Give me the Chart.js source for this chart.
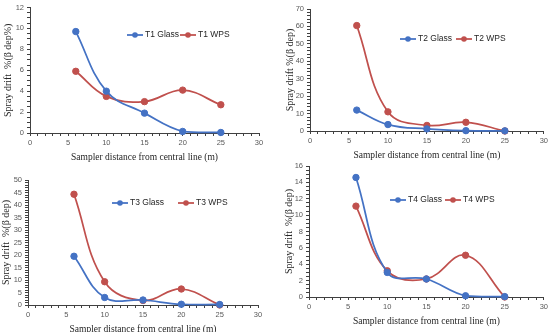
<!DOCTYPE html>
<html lang="en">

<head>
  <meta charset="UTF-8" />
  <title>Spray drift</title>
  <style>
    body {
      margin: 0;
      background: #fff;
    }
    #wrap {
      position: relative;
      width: 550px;
      height: 332px;
    }
    #wrap canvas {
      position: absolute;
      left: 0;
      top: 0;
    }
  </style>
</head>

<body>
  <div id="wrap">
    <canvas id="c1" width="550" height="332"></canvas>
    <canvas id="c2" width="550" height="332"></canvas>
    <canvas id="c3" width="550" height="332"></canvas>
    <canvas id="c4" width="550" height="332"></canvas>
  </div>

  <script src="https://cdn.jsdelivr.net/npm/chart.js"></script>
  <script>
    // sampler distance (m)
    const distances = [6, 10, 15, 20, 25];

    const t1Glass = [9.7, 4.0, 1.9, 0.15, 0.05];
    const t1Wps = [5.9, 3.5, 3.0, 4.1, 2.7];
    const t2Glass = [12.0, 3.7, 1.2, 0.2, 0.1];
    const t2Wps = [60.5, 11.0, 3.2, 5.0, 0];
    const t3Glass = [19.5, 3.0, 2.0, 0.3, 0.2];
    const t3Wps = [44.3, 9.3, 1.8, 6.4, 0];
    const t4Glass = [14.6, 3.0, 2.2, 0.15, 0.05];
    const t4Wps = [11.1, 3.2, 2.2, 5.1, 0];

    // axis ranges
    const xMax = 30;
    const xMajor = 5;
    const yMaxes = [12, 70, 50, 16];
    const yMajors = [2, 10, 5, 2];
    const yMinors = [0.5, 2, 1, 0.5];

    const BLUE = "#4472C4";
    const RED = "#C0504D";
    const AXIS = "#404040";
    const TICK_TXT = "#595959";

    Chart.defaults.font.family = "'Liberation Sans', Arial, sans-serif";

    const legendPlugin = {
      id: "panelLegend",
      afterDraw(chart, args, opts) {
        const ctx = chart.ctx;
        ctx.save();
        chart.data.datasets.forEach((ds, i) => {
          const x = opts.xs[i];
          const y = opts.y;
          ctx.strokeStyle = ds.borderColor;
          ctx.lineWidth = 1.75;
          ctx.beginPath();
          ctx.moveTo(x, y);
          ctx.lineTo(x + 16, y);
          ctx.stroke();
          ctx.fillStyle = ds.borderColor;
          ctx.beginPath();
          ctx.arc(x + 8, y, 2.8, 0, Math.PI * 2);
          ctx.fill();
          ctx.fillStyle = "#262626";
          ctx.font = "8.5px 'Liberation Sans', Arial, sans-serif";
          ctx.textBaseline = "middle";
          ctx.fillText(ds.label, x + 18, y);
        });
        ctx.restore();
      },
    };

    const panels = [
      { id: "c1", name: "T1", glass: t1Glass, wps: t1Wps, yTitle: "Spray drift  %(β dep%)",
        area: { l: 30, r: 259, t: 6, b: 133 }, yPad: 2, legend: { y: 35, xs: [127, 180] } },
      { id: "c2", name: "T2", glass: t2Glass, wps: t2Wps, yTitle: "Spray drift %(β dep)",
        area: { l: 310, r: 544, t: 9, b: 131 }, yPad: 4, legend: { y: 39, xs: [400, 456] } },
      { id: "c3", name: "T3", glass: t3Glass, wps: t3Wps, yTitle: "Spray drift  %(β dep)",
        area: { l: 28, r: 258, t: 180, b: 305 }, yPad: 2, legend: { y: 203, xs: [112, 178] } },
      { id: "c4", name: "T4", glass: t4Glass, wps: t4Wps, yTitle: "Spray drift  %(β dep)",
        area: { l: 309, r: 544, t: 166, b: 297 }, yPad: 4, legend: { y: 200, xs: [390, 445] } },
    ];

    function series(label, values, color) {
      return {
        label: label,
        data: distances.map((d, i) => ({ x: d, y: values[i] })),
        borderColor: color,
        backgroundColor: color,
        borderWidth: 1.75,
        pointRadius: 3.2,
        pointBorderWidth: 1,
        tension: 0.4,
        clip: false,
      };
    }

    panels.forEach((p, k) => {
      const a = p.area;
      const major = yMajors[k];
      new Chart(document.getElementById(p.id), {
        type: "line",
        data: {
          datasets: [
            series(p.name + " Glass", p.glass, BLUE),
            series(p.name + " WPS", p.wps, RED),
          ],
        },
        plugins: [legendPlugin],
        options: {
          responsive: false,
          animation: false,
          events: [],
          layout: {
            padding: { left: a.l - 30, right: 550 - a.r, top: a.t, bottom: 332 - a.b - 30 },
          },
          plugins: {
            legend: { display: false },
            tooltip: { enabled: false },
            panelLegend: p.legend,
          },
          scales: {
            x: {
              type: "linear",
              min: 0,
              max: xMax,
              afterFit: (s) => { s.height = 30; },
              border: { color: AXIS, width: 1 },
              grid: { drawOnChartArea: false, tickLength: 3, color: AXIS },
              ticks: {
                stepSize: 1,
                autoSkip: false,
                maxRotation: 0,
                padding: 2,
                color: TICK_TXT,
                font: { size: 7.5 },
                callback: (v) => (v % xMajor === 0 ? String(v) : ""),
              },
              title: {
                display: true,
                text: "Sampler distance from central line (m)",
                color: "#262626",
                font: { family: "'Liberation Serif', 'Times New Roman', serif", size: 9.5 },
                padding: { top: 4, bottom: 0 },
              },
            },
            y: {
              min: 0,
              max: yMaxes[k],
              afterFit: (s) => { s.width = 30; },
              border: { color: AXIS, width: 1 },
              grid: { drawOnChartArea: false, tickLength: 3, color: AXIS },
              ticks: {
                stepSize: yMinors[k],
                autoSkip: false,
                padding: 3,
                color: TICK_TXT,
                font: { size: 7.5 },
                callback: (v) => (Math.round(v * 100) % Math.round(major * 100) === 0 ? String(v) : ""),
              },
              title: {
                display: true,
                text: p.yTitle,
                color: "#262626",
                font: { family: "'Liberation Serif', 'Times New Roman', serif", size: 10 },
                padding: { top: p.yPad, bottom: 0 },
              },
            },
          },
        },
      });
    });
  </script>
</body>

</html>
